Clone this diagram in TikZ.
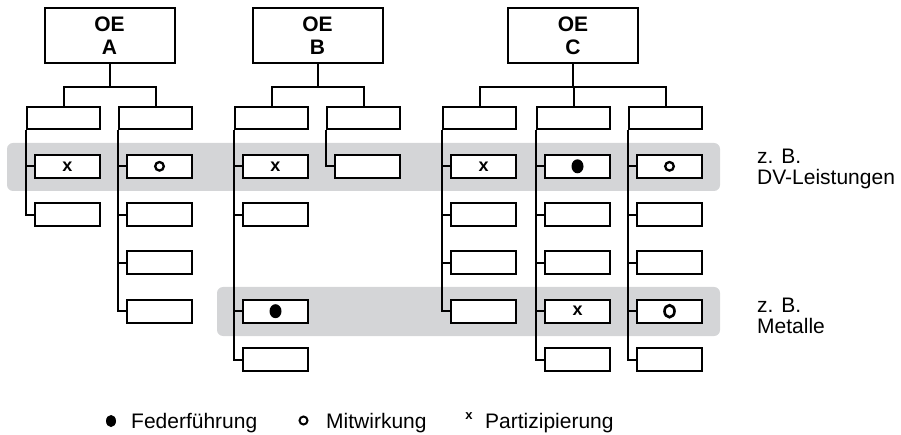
\documentclass[tikz,border=0pt]{standalone}
\usepackage{fontspec}
\setmainfont{Liberation Sans}
\definecolor{bandgray}{RGB}{212,213,215}
\tikzset{
  conn/.style={line width=2pt},
  oebox/.style={draw, line width=2pt, minimum width=130pt, minimum height=55pt, inner sep=0pt,
    font=\bfseries\fontsize{21}{23}\selectfont, align=center},
  hbox/.style={draw, fill=white, line width=2pt, minimum width=73pt, minimum height=22pt, inner sep=0pt},
  rbox/.style={draw, fill=white, line width=2pt, minimum width=65pt, minimum height=23pt, inner sep=0pt},
  band/.style={fill=bandgray, rounded corners=6pt},
  lbl/.style={font=\fontsize{21}{21}\selectfont, align=left, anchor=north west, inner sep=0pt},
  legtext/.style={font=\fontsize{21}{21}\selectfont, anchor=base west, inner sep=0pt},
  xmark/.style={font=\bfseries\fontsize{18}{18}\selectfont, inner sep=0pt},
  omark/.style={line width=2.3pt},
}
\begin{document}
\begin{tikzpicture}[x=1pt,y=-1pt]
\useasboundingbox (0,0) rectangle (901,435);
% bands
\fill[band] (7,143) rectangle (720,191);
\fill[band] (217,287) rectangle (720,336);
% top boxes
\node[oebox] (oeA) at (109.5,35.5) {OE\\A};
\node[oebox] (oeB) at (317.5,35.5) {OE\\B};
\node[oebox] (oeC) at (573,35.5) {OE\\C};
% columns
\foreach \c/\x/\rows in {A1/27/{1,2}, A2/119/{1,2,3,4}, B1/235/{1,2,4,5}, B2/327/{1},
                         C1/443/{1,2,3,4}, C2/537/{1,2,3,4,5}, C3/629/{1,2,3,4,5}} {
  \node[hbox] (\c) at (\x+36.5,118) {};
  \foreach \r in \rows {
    \node[rbox] (\c-\r) at (\x+40.5,{118+48.3*\r}) {};
    \draw[conn] (\c.south west) |- (\c-\r.west);
  }
}
% tree connectors
\path (oeA.south) ++(0,23) coordinate (bA);
\path (oeB.south) ++(0,23) coordinate (bB);
\path (oeC.south) ++(0,23) coordinate (bC);
\draw[conn] (oeA.south) -- (bA);
\draw[conn] (A1.north) |- (bA) -| (A2.north);
\draw[conn] (oeB.south) -- (bB);
\draw[conn] (B1.north) |- (bB) -| (B2.north);
\draw[conn] (oeC.south) -- (bC);
\draw[conn] (C1.north) |- (bC) -| (C3.north);
\draw[conn] (C2.north) -- (C2.north |- bC);
% marks
\node[xmark] (mA1) at (A1-1) {x};
\draw[omark] (A2-1) circle[radius=4.3pt];
\node[xmark] (mB1) at (B1-1) {x};
\fill (B1-4) ellipse[x radius=6pt, y radius=7pt];
\node[xmark] (mC1) at (C1-1) {x};
\fill (C2-1) ellipse[x radius=6pt, y radius=7pt];
\node[xmark] (mC2) at (C2-4) {x};
\draw[omark] (C3-1) circle[radius=4.3pt];
\draw[line width=2.6pt] (C3-4) ellipse[x radius=5pt, y radius=6pt];
% side labels
\node[lbl] (l1) at (757,149) {z. B.\\DV-Leistungen};
\node[lbl] (l2) at (757,298) {z. B.\\Metalle};
% legend
\fill (111,421) ellipse[x radius=5pt, y radius=6pt];
\node[legtext] (lf) at (131,428) {Federführung};
\draw[line width=2pt] (303.5,420.5) circle[radius=4pt];
\node[legtext] (lm) at (326,428) {Mitwirkung};
\node[font=\bfseries\fontsize{13}{13}\selectfont, inner sep=0pt] (lx) at (469,416.5) {x};
\node[legtext] (lp) at (485,428) {Partizipierung};
\end{tikzpicture}
\end{document}
